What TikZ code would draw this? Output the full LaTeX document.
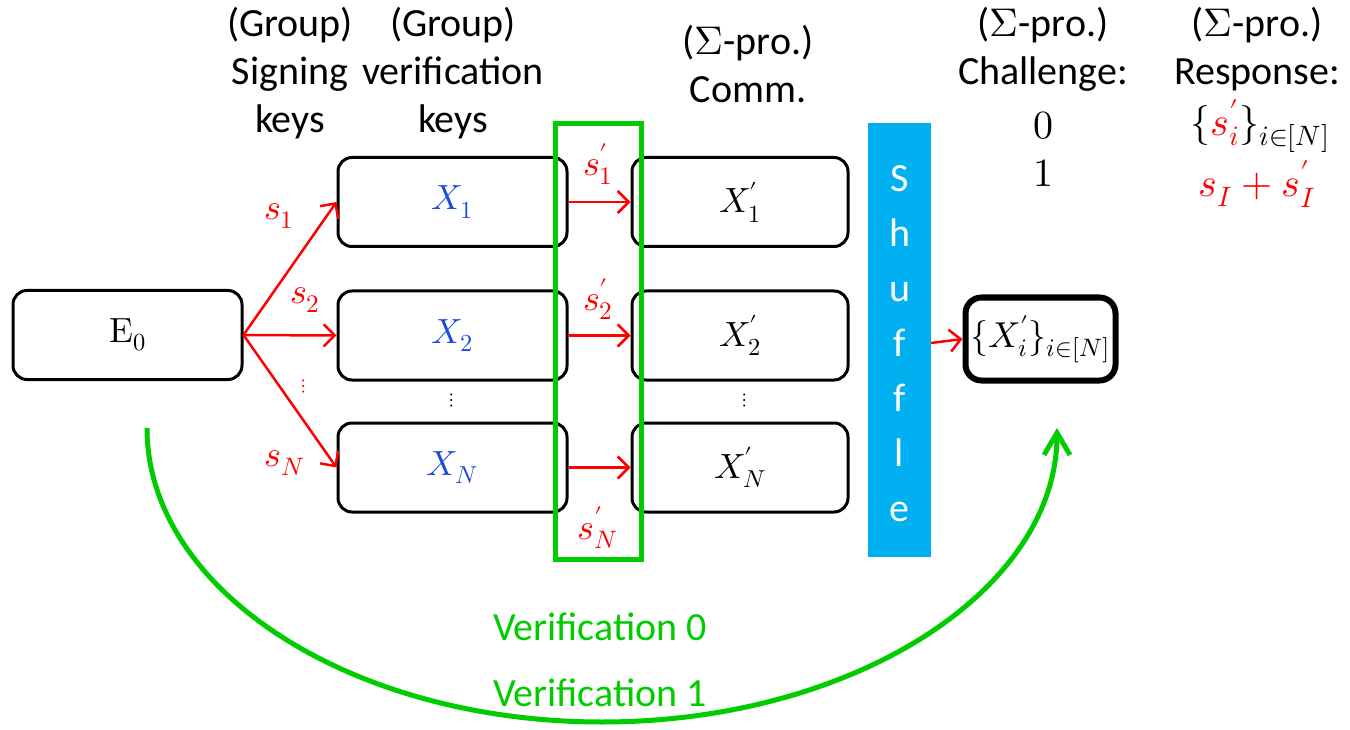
\documentclass[tikz,border=0pt]{standalone}
\usepackage{fontspec}
\usepackage{unicode-math}
\setmainfont{Carlito}
\setmathfont{Latin Modern Math}
\usetikzlibrary{arrows.meta}
\definecolor{vgreen}{RGB}{0,204,0}
\definecolor{barblue}{RGB}{0,176,240}
\definecolor{keyblue}{RGB}{25,75,220}
\definecolor{sred}{RGB}{255,0,0}
\begin{document}
\begin{tikzpicture}[x=1pt,y=-1pt,
  keybox/.style={draw,line width=3pt,rounded corners=14pt,minimum width=229pt,
    minimum height=89pt,inner sep=0pt,font=\fontsize{35}{40}\selectfont},
  commbox/.style={keybox,minimum width=216pt},
  head/.style={align=center,anchor=north,inner sep=0pt,font=\fontsize{40}{48}\selectfont},
  mathline/.style={inner sep=0pt,font=\fontsize{40}{46}\selectfont},
  redarr/.style={draw=sred,line width=2.5pt,
    -{Straight Barb[length=11pt,width=22pt,line width=2.5pt]}},
  slabel/.style={text=sred,inner sep=0pt,font=\fontsize{36}{40}\selectfont},
  dots/.style={inner sep=0pt,scale=2,font=\fontsize{10}{12}\selectfont},
  verlabel/.style={text=vgreen,inner sep=0pt,font=\fontsize{40}{48}\selectfont},
]
\useasboundingbox (0,0) rectangle (1350,730);

% column headings
\node[head] (h1) at (290,7) {(Group)\\Signing\\keys};
\node[head] (h2) at (453,7) {(Group)\\verification\\keys};
\node[head] (h3) at (748,25) {($\Sigma$-pro.)\\Comm.};
\node[head] (h4) at (1043,7) {($\Sigma$-pro.)\\Challenge:};
\node[head] (h5) at (1257,7) {($\Sigma$-pro.)\\Response:};
\node[mathline] (c0) at (1043,126) {$0$};
\node[mathline] (c1) at (1043,173) {$1$};
\node[mathline] (r0) at (1260,126) {$\{\textcolor{sred}{s'_i}\}_{i\in[N]}$};
\node[mathline,text=sred] (r1) at (1257,184) {$s_I+s'_I$};

% shuffle bar
\fill[barblue] (868,123) rectangle (931,557);
\node[align=center,anchor=north,inner sep=0pt,text=white,
  font=\fontsize{40}{55}\selectfont] (shuf) at (899.5,165) {S\\h\\u\\f\\f\\l\\e};
\coordinate (shufout) at (931,343);

% key boxes
\node[keybox] (E0) at (127.5,335) {$\symup{E}_0$};
\node[keybox] (X1) at (452.5,202) {$\textcolor{keyblue}{X_1}$};
\node[keybox] (X2) at (452.5,335.5) {$\textcolor{keyblue}{X_2}$};
\node[keybox] (XN) at (452.5,467.5) {$\textcolor{keyblue}{X_N}$};
\node[commbox] (Y1) at (740,202) {$X'_1$};
\node[commbox] (Y2) at (740,335.5) {$X'_2$};
\node[commbox] (YN) at (740,467.5) {$X'_N$};
\node[draw,line width=6pt,rounded corners=16pt,minimum width=150pt,minimum height=83pt,
  inner sep=0pt,font=\fontsize{36}{40}\selectfont] (res) at (1040.5,339) {$\{X'_i\}_{i\in[N]}$};

\node[dots] (d1) at (452,400) {$\vdots$};
\node[dots] (d2) at (745,400) {$\vdots$};

% signing keys
\draw[redarr] (E0.east) -- (X1.west);
\draw[redarr] (E0.east) -- (X2.west);
\draw[redarr] (E0.east) -- (XN.west);
\node[slabel] (s1) at (279,216) {$s_1$};
\node[slabel] (s2) at (305,300) {$s_2$};
\node[dots,text=sred] (sd) at (304,386) {$\vdots$};
\node[slabel] (sN) at (285,463) {$s_N$};

% commitments
\draw[redarr] (X1.east) -- (Y1.west);
\draw[redarr] (X2.east) -- (Y2.west);
\draw[redarr] (XN.east) -- (YN.west);
\node[slabel] (t1) at (598,164) {$s'_1$};
\node[slabel] (t2) at (598,299) {$s'_2$};
\node[slabel] (tN) at (598,528) {$s'_N$};

\draw[draw=vgreen,line width=5pt] (555,124) rectangle (641,559);

\draw[redarr] (shufout) -- (res.west);

% verification
\coordinate (vstart) at (147,428);
\draw[draw=vgreen,line width=5pt,
  -{Straight Barb[length=22pt,width=26pt,line width=5pt]}]
  (vstart) arc[start angle=180,end angle=360,x radius=455pt,y radius=294pt];
\node[verlabel] (v0) at (600,627) {Verification 0};
\node[verlabel] (v1) at (600,693) {Verification 1};
\end{tikzpicture}
\end{document}
